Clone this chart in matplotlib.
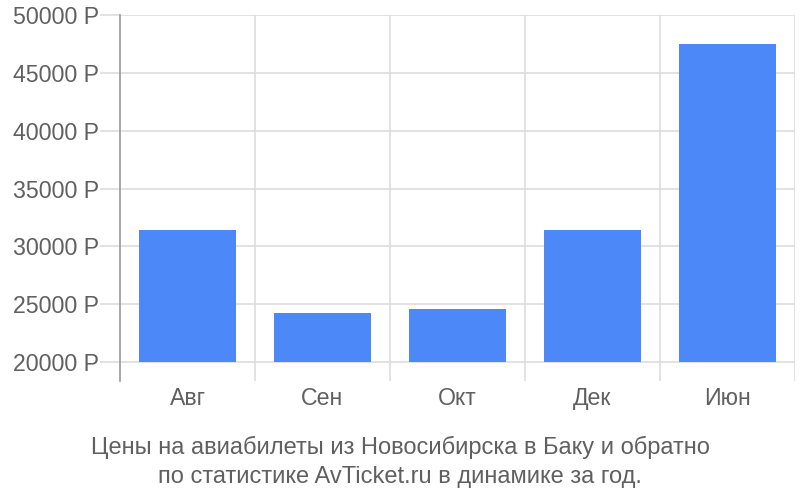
import matplotlib
matplotlib.use("Agg")
import matplotlib.pyplot as plt
from matplotlib.ticker import FixedLocator

categories = ["Авг", "Сен", "Окт", "Дек", "Июн"]
prices = [31400, 24200, 24550, 31400, 47500]
yticks = [20000, 25000, 30000, 35000, 40000, 45000, 50000]
ytick_labels = ["20000 Р", "25000 Р", "30000 Р", "35000 Р", "40000 Р", "45000 Р", "50000 Р"]
base = 20000
title = "Цены на авиабилеты из Новосибирска в Баку и обратно\nпо статистике AvTicket.ru в динамике за год."

plt.rcParams['font.family'] = ['Liberation Sans', 'DejaVu Sans']
text_color = "#606060"
grid_color = "#dddddd"

fig = plt.figure(figsize=(8, 5), dpi=100)
ax = fig.add_axes([0.15, 0.238, 0.84375, 0.732])

x = range(len(categories))
ax.bar(x, [p - base for p in prices], bottom=base, width=0.725, color="#4d88f9", zorder=3)

ax.set_xlim(-0.5, len(categories) - 0.5)
ax.set_ylim(18360, 50000)

ax.set_yticks(yticks)
ax.set_yticklabels(ytick_labels)
ax.tick_params(axis='y', length=14.4, width=1.2, color=grid_color, pad=0.7, labelsize=16.7, labelcolor=text_color)
ax.yaxis.grid(True, color=grid_color, linewidth=1.2, zorder=0)

ax.set_xticks(list(x))
ax.set_xticklabels(categories)
ax.tick_params(axis='x', length=0, pad=4.5, labelsize=16.7, labelcolor=text_color)
ax.xaxis.set_minor_locator(FixedLocator([i + 0.5 for i in x]))
ax.tick_params(axis='x', which='minor', length=0)
ax.xaxis.grid(True, which='minor', color=grid_color, linewidth=1.2, zorder=0)

for s in ['top', 'right', 'bottom']:
    ax.spines[s].set_visible(False)
ax.spines['left'].set_color("#999999")
ax.spines['left'].set_linewidth(1.2)

fig.text(0.5, 0.076, title, ha='center', va='center', fontsize=17, color=text_color, linespacing=1.38)

fig.savefig("out.png", dpi=100)
